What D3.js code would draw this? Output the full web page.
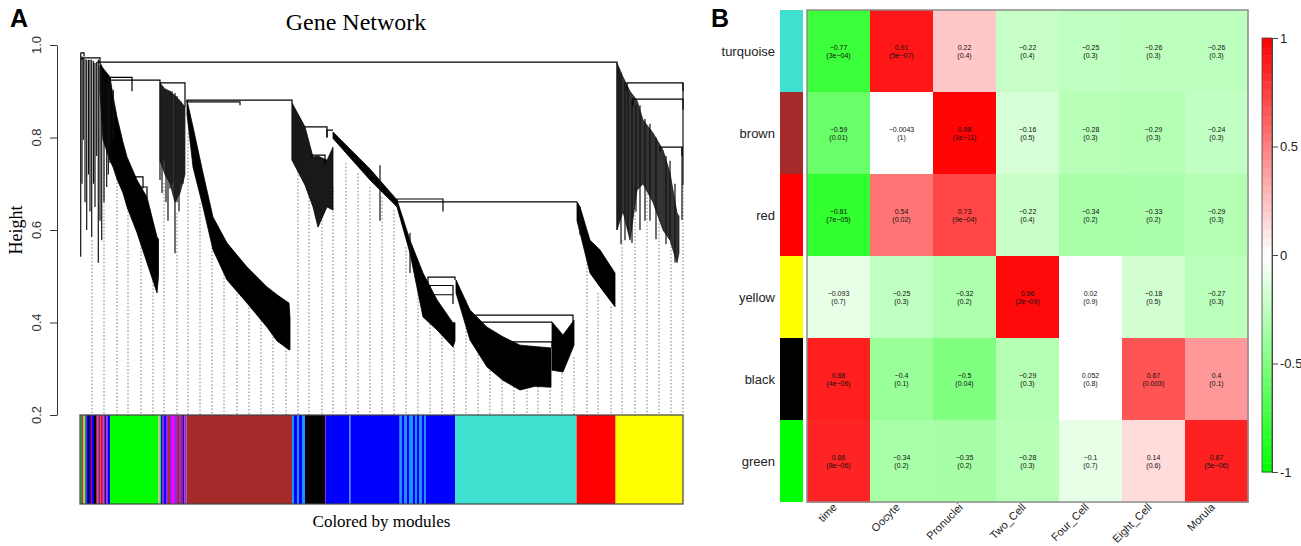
<!DOCTYPE html>
<html>
<head>
<meta charset="utf-8">
<script src="https://cdn.jsdelivr.net/npm/d3@7"></script>
<style>
  body { margin: 0; background: #fff; }
  svg { display: block; }
</style>
</head>
<body>
<div id="chart"></div>
<script>
const WIDTH = 1301;
const HEIGHT = 546;

// ---------- panel A data (leaf order 0..603, height 0.2..1.0) ----------
const heightTicks = [0.2, 0.4, 0.6, 0.8, 1.0];

// dense black bands of the dendrogram: [leaf, top height, bottom height]
const cascadeLeft = [[20,.961,.90],[23,.95,.795],[30,.931,.75],[33,.89,.736],[37,.844,.71],[43,.79,.68],[47,.758,.65],[57,.708,.594],[67,.671,.529],[77,.585,.464],[78.5,.58,.50]];
const cascadeMid = [[80,.918,.75],[85,.905,.72],[90,.90,.70],[95,.89,.66],[100,.88,.68],[105,.866,.72]];
const cascadeBrown = [[107,.88,.85],[113,.823,.736],[123,.723,.65],[133,.628,.557],[147,.572,.492],[167,.52,.442],[187,.477,.39],[197,.46,.36],[209,.442,.341],[210,.41,.341]];
const cascadeBlack = [[212,.875,.751],[225,.823,.697],[233,.758,.65],[238,.76,.606],[247,.751,.65],[253,.779,.643]];
const cascadeBlue = [[253,.812,.798],[290,.732,.708],[317,.665,.65],[330,.578,.55],[343,.507,.412],[357,.449,.384],[373,.399,.347],[375,.40,.36]];
const cascadeTurq1 = [[376,.492,.464],[390,.427,.362],[407,.39,.304],[423,.369,.275],[440,.351,.254],[455,.348,.262],[471,.345,.26]];
const cascadeTurq2 = [[472,.401,.297],[483,.373,.293],[494,.405,.351]];
const cascadeRed = [[497,.661,.62],[500,.65,.594],[510,.578,.507],[520,.557,.477],[535,.507,.434]];
const cascadeYellow = [[537,.961,.60],[543,.931,.64],[550,.90,.578],[557,.88,.686],[563,.838,.70],[573,.81,.66],[583,.773,.60],[590,.723,.578],[597,.637,.529],[599,.63,.55]];

// merges: [left leaf, right leaf, merge height, left child height, right child height]
const merges = [
  [0.7,4,.983,.983,.975],[2,20,.972,.968,.961],[18,537,.963,.961,.961],
  [30,80,.924,.931,.918],[30,52,.93,.931,.90],[80,105,.918,.918,.866],
  [107,212,.881,.88,.875],[107,160,.877,.88,.87],[225,247,.823,.823,.80],
  [247,253,.816,.80,.816],[232,245,.762,.758,.74],[317,497,.661,.665,.661],
  [317,363,.667,.665,.64],[348,375,.498,.45,.492],[350,373,.48,.45,.46],
  [352,373,.46,.44,.44],[393,493,.416,.40,.40],[397,472,.401,.40,.401],
  [433,472,.358,.35,.345],[547,603,.918,.90,.90],[553,603,.883,.87,.86],
  [580,602,.779,.77,.76],[53,63,.715,.70,.69],[57,67,.693,.68,.67]
];

// single branches: [leaf, top height, bottom height]
const stems = [
  [0.7,.983,.542],[2,.975,.70],[3.3,.972,.795],[5,.97,.66],[6.7,.968,.60],[8.5,.968,.72],
  [10,.968,.64],[11.7,.968,.585],[13.5,.965,.70],[15,.961,.65],[16.7,.963,.76],
  [18.3,.968,.529],[20,.955,.62],[21.7,.946,.578],[24,.935,.66],[26.7,.918,.693],[28.3,.93,.72],
  [30,.924,.745],[33.3,.903,.795],
  [80,.918,.708],[82,.91,.68],[84,.905,.75],[86,.905,.66],[88,.90,.62],[90,.90,.69],[92,.90,.70],
  [95,.896,.55],[97,.89,.66],[99,.88,.64],[101,.875,.70],[103,.87,.70],
  [212.3,.875,.751],[300,.74,.62],[330,.594,.507],[500,.65,.59],
  [537,.961,.60],[539,.95,.62],[541,.94,.57],[545,.92,.578],[548,.90,.60],[552,.88,.572],
  [556,.87,.64],[560,.87,.60],[565,.84,.62],[570,.83,.62],[576,.80,.58],[586,.76,.57],
  [603,.918,.697],[602,.779,.622],[590,.75,.58],[595,.70,.53]
];

// dotted guide lines: [leaf, top height]
const drops = [
  [12,.578],[24,.751],[37,.801],[48,.708],[61,.615],[73,.542],[84,.702],[97,.637],[108,.81],[120,.658],
  [132,.615],[144,.55],[157,.507],[169,.455],[181,.434],[193,.399],[206,.362],[218,.81],[229,.702],[242,.637],
  [253,.693],[266,.745],[278,.723],[290,.693],[302,.671],[314,.643],[326,.563],[338,.514],[350,.412],[362,.39],
  [374,.347],[386,.449],[398,.384],[410,.334],[422,.291],[434,.269],[447,.276],[458,.261],[470,.254],[482,.297],
  [494,.325],[507,.572],[518,.464],[531,.434],[542,.578],[555,.693],[567,.686],[579,.622],[591,.572],[603,.693]
];

// module colour bar: [from leaf, to leaf, colour]
const moduleSegments = [
  [0,1.5,"#00ff00"],[1.5,2.5,"#000000"],[2.5,3.5,"#ff0000"],[3.5,4.5,"#d2b48c"],[4.5,5.5,"#00ff00"],
  [5.5,6.5,"#000000"],[6.5,8,"#0000ff"],[8,9,"#000000"],[9,11,"#0000ff"],[11,12,"#ff0000"],
  [12,14,"#0000ff"],[14,16,"#000000"],[16,17.5,"#a52a2a"],[17.5,19,"#a020f0"],[19,20.5,"#a52a2a"],
  [20.5,22,"#ff0000"],[22,23.5,"#a020f0"],[23.5,25,"#a52a2a"],[25,26.5,"#0000ff"],[26.5,28,"#a020f0"],
  [28,30,"#0000ff"],[30,78.5,"#00ff00"],
  [78.5,80,"#d2b48c"],[80,81,"#00ff00"],[81,82,"#0000ff"],[82,84,"#a020f0"],[84,86,"#0000ff"],
  [86,88,"#a020f0"],[88,90,"#a52a2a"],[90,92,"#a020f0"],[92,94,"#ff00ff"],[94,97,"#a020f0"],
  [97,99,"#a52a2a"],[99,101,"#a020f0"],[101,103,"#a52a2a"],[103,104.5,"#0000ff"],[104.5,106.6,"#a020f0"],
  [106.6,212,"#a52a2a"],
  [212,214,"#1e90ff"],[214,217,"#0000ff"],[217,219,"#1e90ff"],[219,222,"#0000ff"],[222,225,"#1e90ff"],
  [225,245,"#000000"],[245,246,"#a020f0"],[246,269.5,"#0000ff"],[269.5,270.5,"#1e90ff"],[270.5,319.7,"#0000ff"],
  [319.7,322,"#1e90ff"],[322,324,"#0000ff"],[324,327,"#1e90ff"],[327,329,"#0000ff"],[329,333,"#1e90ff"],
  [333,335,"#0000ff"],[335,337,"#1e90ff"],[337,339,"#0000ff"],[339,342,"#1e90ff"],[342,344,"#0000ff"],
  [344,346,"#1e90ff"],[346,375,"#0000ff"],
  [375,496.6,"#40e0d0"],[496.6,535.6,"#ff0000"],[535.6,603,"#ffff00"]
];

// ---------- panel B data ----------
const modules = ["turquoise", "brown", "red", "yellow", "black", "green"];
const moduleColors = ["#40e0d0", "#a52a2a", "#ff0000", "#ffff00", "#000000", "#00ff00"];
const traits = ["time", "Oocyte", "Pronuclei", "Two_Cell", "Four_Cell", "Eight_Cell", "Morula"];
const corr = [
  [-0.77, 0.91, 0.22, -0.22, -0.25, -0.26, -0.26],
  [-0.59, -0.0043, 0.98, -0.16, -0.28, -0.29, -0.24],
  [-0.81, 0.54, 0.73, -0.22, -0.34, -0.33, -0.29],
  [-0.093, -0.25, -0.32, 0.96, 0.02, -0.18, -0.27],
  [0.88, -0.4, -0.5, -0.29, 0.052, 0.67, 0.4],
  [0.86, -0.34, -0.35, -0.28, -0.1, 0.14, 0.87]
];
const pvals = [
  ["3e-04", "5e-07", "0.4", "0.4", "0.3", "0.3", "0.3"],
  ["0.01", "1", "1e-11", "0.5", "0.3", "0.3", "0.3"],
  ["7e-05", "0.02", "9e-04", "0.4", "0.2", "0.2", "0.3"],
  ["0.7", "0.3", "0.2", "2e-09", "0.9", "0.5", "0.3"],
  ["4e-06", "0.1", "0.04", "0.3", "0.8", "0.003", "0.1"],
  ["8e-06", "0.2", "0.2", "0.3", "0.7", "0.6", "5e-06"]
];
const legendTicks = [-1, -0.5, 0, 0.5, 1];

const SERIF = "'Liberation Serif', 'Times New Roman', serif";
const SANS = "'Liberation Sans', Arial, sans-serif";

const svg = d3.select("#chart").append("svg")
  .attr("width", WIDTH)
  .attr("height", HEIGHT);

svg.append("rect").attr("width", WIDTH).attr("height", HEIGHT).attr("fill", "#fff");

// ================= PANEL A =================
const x = d3.scaleLinear().domain([0, 603]).range([80, 683]);
const y = d3.scaleLinear().domain([0.2, 1.0]).range([415, 45]);

svg.append("text")
  .attr("x", 10).attr("y", 27)
  .style("font-family", SANS).style("font-weight", "bold").style("font-size", "25px")
  .text("A");

svg.append("text")
  .attr("x", 356).attr("y", 30)
  .attr("text-anchor", "middle")
  .style("font-family", SERIF).style("font-size", "24px")
  .text("Gene Network");

// y axis
const axisA = svg.append("g")
  .attr("transform", "translate(57,0)")
  .call(d3.axisLeft(y).tickValues(heightTicks).tickSize(7).tickSizeOuter(0).tickFormat(""));
axisA.select(".domain").attr("stroke", "#333");
axisA.selectAll(".tick line").attr("stroke", "#333");

svg.selectAll(".ylab")
  .data(heightTicks)
  .join("text")
  .attr("class", "ylab")
  .attr("transform", d => `translate(41,${y(d)}) rotate(-90)`)
  .attr("text-anchor", "middle")
  .style("font-family", SANS).style("font-size", "13px").style("fill", "#333")
  .text(d => d3.format(".1f")(d));

svg.append("text")
  .attr("transform", `translate(22,${y(0.6)}) rotate(-90)`)
  .attr("text-anchor", "middle")
  .style("font-family", SERIF).style("font-size", "18px")
  .text("Height");

// dotted guides
svg.append("g")
  .selectAll("line")
  .data(drops)
  .join("line")
  .attr("x1", d => x(d[0])).attr("x2", d => x(d[0]))
  .attr("y1", d => y(d[1])).attr("y2", y(0.2))
  .attr("stroke", "#7a7a7a").attr("stroke-width", 1)
  .attr("stroke-dasharray", "1.5,2");

// dendrogram
const dendro = svg.append("g");
const band = d3.area()
  .x(d => x(d[0]))
  .y0(d => y(d[2]))
  .y1(d => y(d[1]));

const cascades = [
  [cascadeLeft, 1], [cascadeMid, 0.8], [cascadeBrown, 1], [cascadeBlack, 0.9],
  [cascadeBlue, 1], [cascadeTurq1, 1], [cascadeTurq2, 1], [cascadeRed, 1], [cascadeYellow, 0.8]
];
dendro.selectAll("path.band")
  .data(cascades)
  .join("path")
  .attr("class", "band")
  .attr("d", d => band(d[0]))
  .attr("fill", "#000")
  .attr("fill-opacity", d => d[1])
  .attr("stroke", "#000")
  .attr("stroke-width", 0.8)
  .attr("stroke-opacity", d => d[1]);

dendro.selectAll("line.stem")
  .data(stems)
  .join("line")
  .attr("class", "stem")
  .attr("x1", d => x(d[0])).attr("x2", d => x(d[0]))
  .attr("y1", d => y(d[1])).attr("y2", d => y(d[2]))
  .attr("stroke", "#111").attr("stroke-width", 1.2);

dendro.selectAll("path.merge")
  .data(merges)
  .join("path")
  .attr("class", "merge")
  .attr("d", d => `M${x(d[0])},${y(d[3])}V${y(d[2])}H${x(d[1])}V${y(d[4])}`)
  .attr("fill", "none")
  .attr("stroke", "#000").attr("stroke-width", 1.2);

// module colour bar
const barTop = 415, barBottom = 504;
svg.append("g")
  .selectAll("rect")
  .data(moduleSegments)
  .join("rect")
  .attr("x", d => x(d[0]))
  .attr("width", d => Math.max(0.5, x(d[1]) - x(d[0])))
  .attr("y", barTop)
  .attr("height", barBottom - barTop)
  .attr("fill", d => d[2]);

svg.append("rect")
  .attr("x", x(0)).attr("y", barTop)
  .attr("width", x(603) - x(0)).attr("height", barBottom - barTop)
  .attr("fill", "none").attr("stroke", "#444").attr("stroke-width", 1.2);

svg.append("text")
  .attr("x", (x(0) + x(603)) / 2).attr("y", 527)
  .attr("text-anchor", "middle")
  .style("font-family", SERIF).style("font-size", "17px")
  .text("Colored by modules");

// ================= PANEL B =================
svg.append("text")
  .attr("x", 711).attr("y", 27)
  .style("font-family", SANS).style("font-weight", "bold").style("font-size", "25px")
  .text("B");

const xb = d3.scaleBand().domain(traits).range([807, 1248]);
const yb = d3.scaleBand().domain(modules).range([10, 502]);
const color = d3.scaleLinear().domain([-1, 0, 1]).range(["#00ff00", "#ffffff", "#ff0000"]);
// the palette is binned: values very close to zero come out plain white
const cellColor = v => color(Math.abs(v) < 0.06 ? 0 : v);

// module colour column
svg.append("g")
  .selectAll("rect")
  .data(modules)
  .join("rect")
  .attr("x", 780).attr("width", 23)
  .attr("y", d => yb(d)).attr("height", yb.bandwidth())
  .attr("fill", (d, i) => moduleColors[i]);

svg.append("g")
  .selectAll("text")
  .data(modules)
  .join("text")
  .attr("x", 775)
  .attr("y", d => yb(d) + yb.bandwidth() / 2 + 4.5)
  .attr("text-anchor", "end")
  .style("font-family", SANS).style("font-size", "13px").style("fill", "#222")
  .text(d => d);

const cells = [];
modules.forEach((m, i) => traits.forEach((t, j) => cells.push({ m, t, v: corr[i][j], p: pvals[i][j] })));

const cellG = svg.append("g")
  .selectAll("g")
  .data(cells)
  .join("g")
  .attr("transform", d => `translate(${xb(d.t)},${yb(d.m)})`);

cellG.append("rect")
  .attr("width", xb.bandwidth() + 0.5)
  .attr("height", yb.bandwidth() + 0.5)
  .attr("fill", d => cellColor(d.v));

cellG.append("text")
  .attr("x", xb.bandwidth() / 2)
  .attr("y", yb.bandwidth() / 2 - 1)
  .attr("text-anchor", "middle")
  .style("font-family", SANS).style("font-size", "7px").style("fill", "#111")
  .text(d => String(d.v).replace("-", "\u2212"));

cellG.append("text")
  .attr("x", xb.bandwidth() / 2)
  .attr("y", yb.bandwidth() / 2 + 7)
  .attr("text-anchor", "middle")
  .style("font-family", SANS).style("font-size", "7px").style("fill", "#111")
  .text(d => "(" + d.p.replace("-", "\u2212") + ")");

svg.append("rect")
  .attr("x", 807).attr("y", 10)
  .attr("width", 1248 - 807).attr("height", 502 - 10)
  .attr("fill", "none").attr("stroke", "#8c8c8c").attr("stroke-width", 1.5);

// rotated trait labels
svg.append("g")
  .selectAll("text")
  .data(traits)
  .join("text")
  .attr("transform", d => `translate(${xb(d) + xb.bandwidth() / 2 - 1},${508}) rotate(-45)`)
  .attr("text-anchor", "end")
  .style("font-family", SANS).style("font-size", "11px").style("fill", "#222")
  .text(d => d);

// colour legend
const ly = d3.scaleLinear().domain([-1, 1]).range([472, 38]);
const steps = d3.range(50).map(i => -1 + i * 0.04);
svg.append("g")
  .selectAll("rect")
  .data(steps)
  .join("rect")
  .attr("x", 1262).attr("width", 10)
  .attr("y", d => ly(d + 0.04))
  .attr("height", ly(-1) - ly(-0.96) + 0.4)
  .attr("fill", d => color(d + 0.02));

svg.append("rect")
  .attr("x", 1262).attr("y", 38).attr("width", 10).attr("height", 472 - 38)
  .attr("fill", "none").attr("stroke", "#444").attr("stroke-width", 0.8);

const legAxis = svg.append("g")
  .attr("transform", "translate(1272,0)")
  .call(d3.axisRight(ly).tickValues(legendTicks).tickSize(6).tickSizeOuter(0).tickFormat(d => String(d)));
legAxis.select(".domain").attr("stroke", "#444");
legAxis.selectAll(".tick line").attr("stroke", "#444");
legAxis.selectAll(".tick text")
  .attr("x", 8)
  .style("font-family", SANS).style("font-size", "13px").style("fill", "#222");
</script>
</body>
</html>
